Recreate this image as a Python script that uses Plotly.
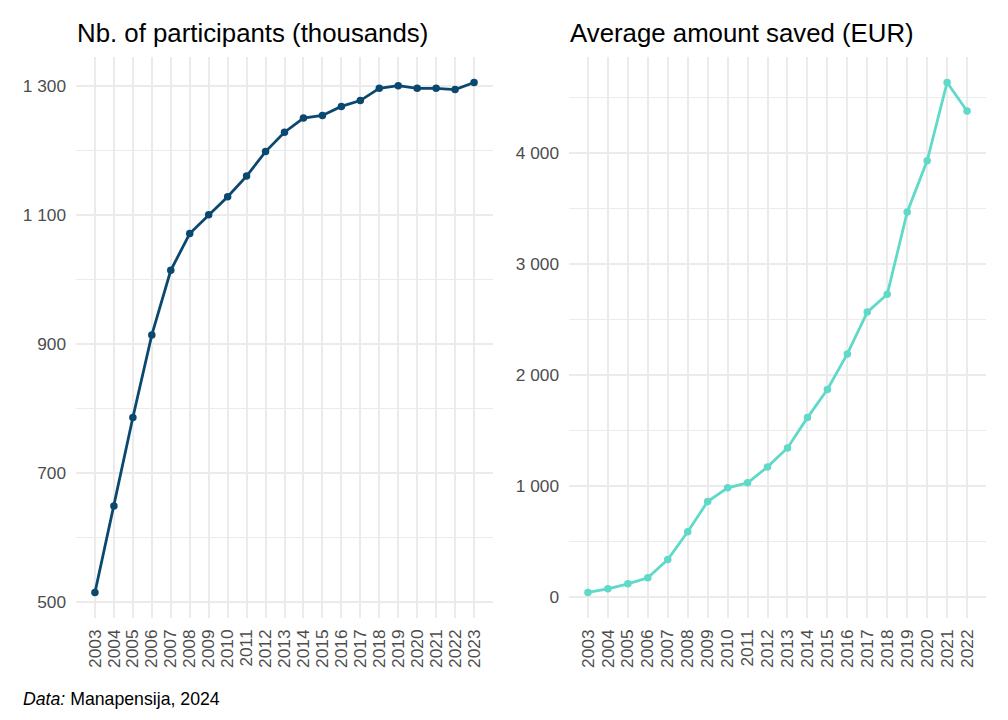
import plotly.graph_objects as go

years_p = list(range(2003, 2024))
participants = [515, 649, 786, 914, 1014, 1071, 1100, 1128, 1160, 1198, 1228,
                1250, 1254, 1268, 1277, 1296, 1300, 1296, 1296, 1294, 1305]

years_s = list(range(2003, 2023))
avg_saved = [39, 72, 117, 171, 336, 586, 859, 982, 1027, 1171, 1342,
             1615, 1868, 2189, 2566, 2726, 3467, 3930, 4635, 4379]

title_left = "Nb. of participants (thousands)"
title_right = "Average amount saved (EUR)"
caption = "<i>Data:</i> Manapensija, 2024"

OFF = 8  # page body margin offset
W, H = 1008 - OFF, 720 - OFF
FONT = "Liberation Sans, Arial, sans-serif"
GRID = "#ebebeb"
TICK = "#4d4d4d"

fig = go.Figure()
fig.add_trace(go.Scatter(x=years_p, y=participants, mode="lines+markers",
                         line=dict(color="#0b4870", width=2.8),
                         marker=dict(color="#0b4870", size=7.5),
                         xaxis="x", yaxis="y", showlegend=False))
fig.add_trace(go.Scatter(x=years_s, y=avg_saved, mode="lines+markers",
                         line=dict(color="#5fd9c8", width=2.8),
                         marker=dict(color="#5fd9c8", size=7.5),
                         xaxis="x2", yaxis="y2", showlegend=False))

def px_x(p):
    return (p - OFF) / W

def px_y(p):
    return 1 - (p - OFF) / H

xcommon = dict(tickmode="array", tickangle=-90, showgrid=True,
               gridcolor=GRID, gridwidth=1.8, zeroline=False, showline=False,
               tickfont=dict(family=FONT, size=17.3, color=TICK),
               ticks="", ticklabelstandoff=7, automargin=False)
ycommon = dict(showgrid=True, gridcolor=GRID, gridwidth=1.8, zeroline=False,
               showline=False, separatethousands=True,
               tickfont=dict(family=FONT, size=17.3, color=TICK),
               ticks="", ticklabelstandoff=9, automargin=False)

fig.update_layout(
    width=W, height=H, margin=dict(l=0, r=0, t=0, b=0),
    paper_bgcolor="white", plot_bgcolor="white",
    separators=". ",
    xaxis=dict(domain=[px_x(76), px_x(493)], range=[2002, 2024],
               tickvals=years_p, anchor="y", **xcommon),
    yaxis=dict(domain=[px_y(618), px_y(57)], range=[475.5, 1344.5],
               tickmode="linear", tick0=500, dtick=200,
               minor=dict(showgrid=True, gridcolor=GRID, gridwidth=1.0,
                          tick0=500, dtick=100),
               anchor="x", **ycommon),
    xaxis2=dict(domain=[px_x(569), px_x(986)], range=[2002.05, 2022.95],
                tickvals=years_s, anchor="y2", **xcommon),
    yaxis2=dict(domain=[px_y(618), px_y(57)], range=[-191, 4865],
                tickmode="linear", tick0=0, dtick=1000,
                minor=dict(showgrid=True, gridcolor=GRID, gridwidth=1.0,
                           tick0=0, dtick=500),
                anchor="x2", **ycommon),
    annotations=[
        dict(text=title_left, x=px_x(75), y=px_y(33), xref="paper", yref="paper",
             xanchor="left", yanchor="middle", showarrow=False,
             font=dict(family=FONT, size=25.8, color="black")),
        dict(text=title_right, x=px_x(568), y=px_y(33), xref="paper", yref="paper",
             xanchor="left", yanchor="middle", showarrow=False,
             font=dict(family=FONT, size=25.8, color="black")),
        dict(text=caption, x=px_x(21), y=px_y(699), xref="paper", yref="paper",
             xanchor="left", yanchor="middle", showarrow=False,
             font=dict(family=FONT, size=17.7, color="black")),
    ],
)

fig.write_html("out.html")
